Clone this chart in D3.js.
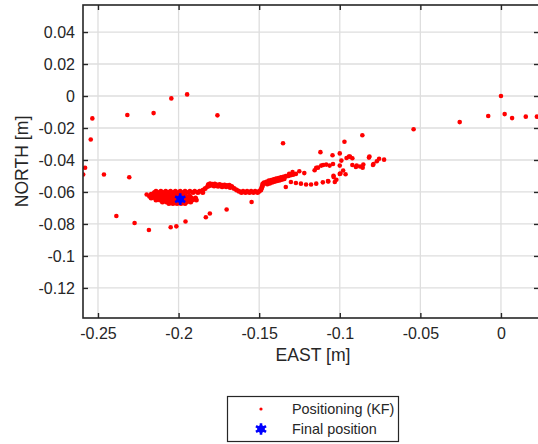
<!DOCTYPE html>
<html>
<head>
<meta charset="utf-8">
<script src="https://cdn.jsdelivr.net/npm/d3@7"></script>
<style>
  html, body { margin: 0; padding: 0; background: #fff; }
  svg { display: block; }
  text { font-family: "Liberation Sans", Arial, Helvetica, sans-serif; fill: #262626; }
</style>
</head>
<body>
<div id="chart"></div>
<script>
// ---------------- DATA ----------------
const xTickValues = [-0.25, -0.2, -0.15, -0.1, -0.05, 0];
const xTickLabels = ["-0.25", "-0.2", "-0.15", "-0.1", "-0.05", "0"];
const yTickValues = [0.04, 0.02, 0, -0.02, -0.04, -0.06, -0.08, -0.1, -0.12];
const yTickLabels = ["0.04", "0.02", "0", "-0.02", "-0.04", "-0.06", "-0.08", "-0.1", "-0.12"];
const xLabel = "EAST [m]";
const yLabel = "NORTH [m]";
const legendLabels = ["Positioning (KF)", "Final position"];

// Dense part of the KF track [east, north]
const trackPoints = [
  // upper strand
  [-0.214,-0.0596],[-0.211,-0.0596],[-0.208,-0.0596],[-0.205,-0.0596],[-0.202,-0.0596],[-0.199,-0.0596],
  [-0.196,-0.0596],[-0.193,-0.0596],[-0.190,-0.0596],[-0.187,-0.0596],
  [-0.215,-0.0604],[-0.212,-0.0604],[-0.209,-0.0604],[-0.206,-0.0604],[-0.203,-0.0604],[-0.200,-0.0604],
  [-0.197,-0.0604],[-0.194,-0.0604],[-0.191,-0.0604],[-0.188,-0.0604],[-0.185,-0.0604],
  // blob around final position
  [-0.217,-0.0614],[-0.2145,-0.0614],[-0.212,-0.0614],[-0.2095,-0.0614],[-0.207,-0.0614],[-0.2045,-0.0614],
  [-0.202,-0.0614],[-0.1995,-0.0614],[-0.197,-0.0614],
  [-0.218,-0.0626],[-0.2155,-0.0626],[-0.213,-0.0626],[-0.2105,-0.0626],[-0.208,-0.0626],[-0.2055,-0.0626],
  [-0.203,-0.0626],[-0.2005,-0.0626],[-0.198,-0.0626],[-0.1955,-0.0626],[-0.193,-0.0626],
  [-0.217,-0.0638],[-0.2145,-0.0638],[-0.212,-0.0638],[-0.2095,-0.0638],[-0.207,-0.0638],[-0.2045,-0.0638],
  [-0.202,-0.0638],[-0.1995,-0.0638],[-0.197,-0.0638],[-0.1945,-0.0638],[-0.192,-0.0638],[-0.1895,-0.0638],
  [-0.214,-0.0650],[-0.2115,-0.0650],[-0.209,-0.0650],[-0.2065,-0.0650],[-0.204,-0.0650],[-0.2015,-0.0650],
  [-0.199,-0.0650],[-0.1965,-0.0650],[-0.194,-0.0650],[-0.1915,-0.0650],[-0.189,-0.0650],
  [-0.210,-0.0662],[-0.2075,-0.0662],[-0.205,-0.0662],[-0.2025,-0.0662],[-0.200,-0.0662],[-0.1975,-0.0662],
  [-0.195,-0.0662],[-0.1925,-0.0662],
  [-0.206,-0.0672],[-0.2035,-0.0672],[-0.201,-0.0672],[-0.1985,-0.0672],[-0.196,-0.0672],
  // hump
  [-0.185,-0.0590],[-0.1835,-0.0578],[-0.182,-0.0566],[-0.1815,-0.0554],[-0.1805,-0.0548],[-0.179,-0.0552],
  [-0.1775,-0.0550],[-0.176,-0.0556],[-0.1745,-0.0553],[-0.173,-0.0558],[-0.1715,-0.0556],[-0.170,-0.0560],
  [-0.1685,-0.0558],[-0.167,-0.0566],[-0.1655,-0.0578],[-0.164,-0.0588],
  [-0.1805,-0.0560],[-0.178,-0.0562],[-0.1755,-0.0565],[-0.173,-0.0567],[-0.1705,-0.0568],[-0.168,-0.0572],
  // dip
  [-0.1625,-0.0596],[-0.160,-0.0596],[-0.1575,-0.0596],[-0.155,-0.0596],[-0.1525,-0.0596],[-0.150,-0.0596],
  [-0.161,-0.0603],[-0.1585,-0.0603],[-0.156,-0.0603],[-0.1535,-0.0603],[-0.151,-0.0603],
  // rise and continuation
  [-0.1490,-0.0588],[-0.1485,-0.0575],[-0.1480,-0.0562],[-0.1478,-0.0550],[-0.1470,-0.0542],
  [-0.1455,-0.0538],[-0.1450,-0.0550],[-0.1440,-0.0530],[-0.1435,-0.0545],[-0.1425,-0.0526],[-0.1420,-0.0540],
  [-0.1410,-0.0522],[-0.1405,-0.0535],[-0.1395,-0.0518],[-0.1390,-0.0530],[-0.1380,-0.0514],[-0.1375,-0.0526],
  [-0.1365,-0.0510],[-0.1360,-0.0522],[-0.1350,-0.0506],[-0.1345,-0.0518],[-0.1335,-0.0502],[-0.1320,-0.0498],
  [-0.1305,-0.0494],[-0.1290,-0.0490]
];

// Scattered KF solutions [east, north]
const scatterPoints = [
  [-0.2545,-0.0272],[-0.2535,-0.0140],[-0.2318,-0.0119],[-0.2155,-0.0107],[-0.2045,-0.0015],[-0.1947,0.0010],
  [-0.1759,-0.0121],[-0.1352,-0.0295],[-0.2580,-0.0449],[-0.2592,-0.0491],[-0.2463,-0.0491],[-0.2306,-0.0508],
  [-0.2198,-0.0616],[-0.2386,-0.0750],[-0.2273,-0.0794],[-0.2184,-0.0838],[-0.2049,-0.0821],[-0.2014,-0.0815],
  [-0.1957,-0.0785],[-0.1831,-0.0758],[-0.1806,-0.0735],[-0.1702,-0.0710],[-0.1547,-0.0663],
  [-0.0542,-0.0208],[-0.0256,-0.0163],[-0.0079,-0.0125],[0.0000,0.0000],[0.0023,-0.0113],[0.0069,-0.0138],
  [0.0154,-0.0129],[0.0223,-0.0129],
  [-0.1120,-0.0351],[-0.1045,-0.0370],[-0.1000,-0.0359],[-0.0971,-0.0286],[-0.0860,-0.0245],[-0.0819,-0.0385],
  [-0.1335,-0.0569],[-0.1314,-0.0487],[-0.1293,-0.0476],[-0.1272,-0.0487],[-0.1251,-0.0470],[-0.1220,-0.0482],
  [-0.1303,-0.0538],[-0.1272,-0.0544],[-0.1241,-0.0548],[-0.1209,-0.0553],[-0.1178,-0.0553],[-0.1146,-0.0548],
  [-0.1105,-0.0540],[-0.1073,-0.0532],[-0.1038,-0.0507],[-0.1031,-0.0538],[-0.1021,-0.0524],[-0.1000,-0.0487],
  [-0.0979,-0.0466],[-0.1146,-0.0449],[-0.1115,-0.0435],[-0.1084,-0.0429],[-0.1063,-0.0435],[-0.1042,-0.0425],
  [-0.1000,-0.0435],[-0.0990,-0.0404],[-0.0958,-0.0388],[-0.0937,-0.0379],[-0.0895,-0.0435],[-0.0874,-0.0441],
  [-0.0854,-0.0429],[-0.0816,-0.0379],[-0.0791,-0.0425],[-0.0770,-0.0408],[-0.0756,-0.0392],[-0.0725,-0.0398],
  [-0.0943,-0.0379],[-0.0922,-0.0389],[-0.0858,-0.0448],[-0.0794,-0.0431],[-0.0900,-0.0444],[-0.0922,-0.0431],
  [-0.0964,-0.0489],[-0.0996,-0.0485],[-0.1039,-0.0499],[-0.1071,-0.0535],
  [-0.1156,-0.0464],[-0.1135,-0.0448],[-0.1103,-0.0431]
];

const finalEast = [-0.199];
const finalNorth = [-0.0645];

// ---------------- LAYOUT ----------------
const W = 538, H = 444;
const plot = { left: 83, right: 539, top: 5, bottom: 318 };
const xDomain = [-0.2593, 0.0236];
const yDomain = [-0.1388, 0.0569];
const axisColor = "#262626";
const gridColor = "#dedede";

const svg = d3.select("#chart").append("svg")
  .attr("width", W).attr("height", H);

const x = d3.scaleLinear().domain(xDomain).range([plot.left, plot.right]);
const y = d3.scaleLinear().domain(yDomain).range([plot.bottom, plot.top]);

svg.append("defs").append("clipPath").attr("id", "clip")
  .append("rect")
  .attr("x", plot.left).attr("y", plot.top)
  .attr("width", plot.right - plot.left).attr("height", plot.bottom - plot.top);

// grid
const grid = svg.append("g");
grid.selectAll("line.gx").data(xTickValues).join("line")
  .attr("x1", d => x(d)).attr("x2", d => x(d))
  .attr("y1", plot.top).attr("y2", plot.bottom)
  .attr("stroke", gridColor).attr("stroke-width", 1.3);
grid.selectAll("line.gy").data(yTickValues).join("line")
  .attr("y1", d => y(d)).attr("y2", d => y(d))
  .attr("x1", plot.left).attr("x2", plot.right)
  .attr("stroke", gridColor).attr("stroke-width", 1.3);

// points
const dotR = 2.3;
const pts = svg.append("g").attr("clip-path", "url(#clip)");
pts.selectAll("circle.track").data(trackPoints).join("circle")
  .attr("cx", d => x(d[0])).attr("cy", d => y(d[1])).attr("r", dotR + 0.2)
  .attr("fill", "#ff0000");
pts.selectAll("circle.sc").data(scatterPoints).join("circle")
  .attr("cx", d => x(d[0])).attr("cy", d => y(d[1])).attr("r", dotR)
  .attr("fill", "#ff0000");

const star = d3.symbol().type(d3.symbolAsterisk).size(95);
const finals = finalEast.map((e, i) => [e, finalNorth[i]]);
pts.selectAll("circle.fin").data(finals).join("circle")
  .attr("cx", d => x(d[0])).attr("cy", d => y(d[1])).attr("r", 3.8)
  .attr("fill", "#0000ff");
pts.selectAll("path.fin").data(finals).join("path")
  .attr("transform", d => `translate(${x(d[0])},${y(d[1])})`)
  .attr("d", star).attr("fill", "none")
  .attr("stroke", "#0000ff").attr("stroke-width", 2.6);

// axes (box with inward ticks)
const ax = svg.append("g");
ax.append("g").attr("transform", `translate(0,${plot.bottom})`)
  .call(d3.axisBottom(x).tickValues(xTickValues).tickFormat((d, i) => xTickLabels[i])
    .tickSizeInner(-5).tickSizeOuter(0).tickPadding(10))
  .call(g => g.select(".domain").remove())
  .call(g => g.selectAll("line").attr("stroke", axisColor).attr("stroke-width", 1.4))
  .call(g => g.selectAll("text").attr("font-size", "16px").attr("fill", axisColor)
    .style("font-family", "'Liberation Sans', Arial, sans-serif"));

ax.append("g").attr("transform", `translate(0,${plot.top})`)
  .call(d3.axisTop(x).tickValues(xTickValues).tickFormat("").tickSizeInner(-5).tickSizeOuter(0))
  .call(g => g.select(".domain").remove())
  .call(g => g.selectAll("line").attr("stroke", axisColor).attr("stroke-width", 1.4));

ax.append("g").attr("transform", `translate(${plot.left},0)`)
  .call(d3.axisLeft(y).tickValues(yTickValues).tickFormat((d, i) => yTickLabels[i])
    .tickSizeInner(-5).tickSizeOuter(0).tickPadding(8))
  .call(g => g.select(".domain").remove())
  .call(g => g.selectAll("line").attr("stroke", axisColor).attr("stroke-width", 1.4))
  .call(g => g.selectAll("text").attr("font-size", "16px").attr("fill", axisColor)
    .style("font-family", "'Liberation Sans', Arial, sans-serif"));

ax.append("g").attr("transform", `translate(${plot.right},0)`)
  .call(d3.axisRight(y).tickValues(yTickValues).tickFormat("").tickSizeInner(-5).tickSizeOuter(0))
  .call(g => g.select(".domain").remove())
  .call(g => g.selectAll("line").attr("stroke", axisColor).attr("stroke-width", 1.4));

ax.append("rect")
  .attr("x", plot.left).attr("y", plot.top)
  .attr("width", plot.right - plot.left).attr("height", plot.bottom - plot.top)
  .attr("fill", "none").attr("stroke", axisColor).attr("stroke-width", 1.6);

// axis labels
svg.append("text")
  .attr("x", (plot.left + plot.right) / 2 + 2).attr("y", 361)
  .attr("text-anchor", "middle").attr("font-size", "17.6px")
  .text(xLabel);
svg.append("text")
  .attr("transform", `translate(28,${(plot.top + plot.bottom) / 2}) rotate(-90)`)
  .attr("text-anchor", "middle").attr("font-size", "17.6px")
  .text(yLabel);

// legend
const lg = svg.append("g");
lg.append("rect").attr("x", 227.5).attr("y", 396.5).attr("width", 171).attr("height", 45)
  .attr("fill", "#fff").attr("stroke", axisColor).attr("stroke-width", 1.2);
lg.append("circle").attr("cx", 261).attr("cy", 409).attr("r", 1.6).attr("fill", "#ff0000");
lg.append("circle").attr("cx", 261).attr("cy", 429).attr("r", 3.8).attr("fill", "#0000ff");
lg.append("path").attr("transform", "translate(261,429)").attr("d", star)
  .attr("fill", "none").attr("stroke", "#0000ff").attr("stroke-width", 2.6);
lg.selectAll("text.lg").data(legendLabels).join("text")
  .attr("x", 292).attr("y", (d, i) => 414 + i * 20)
  .attr("font-size", "14.4px").text(d => d);
</script>
</body>
</html>
